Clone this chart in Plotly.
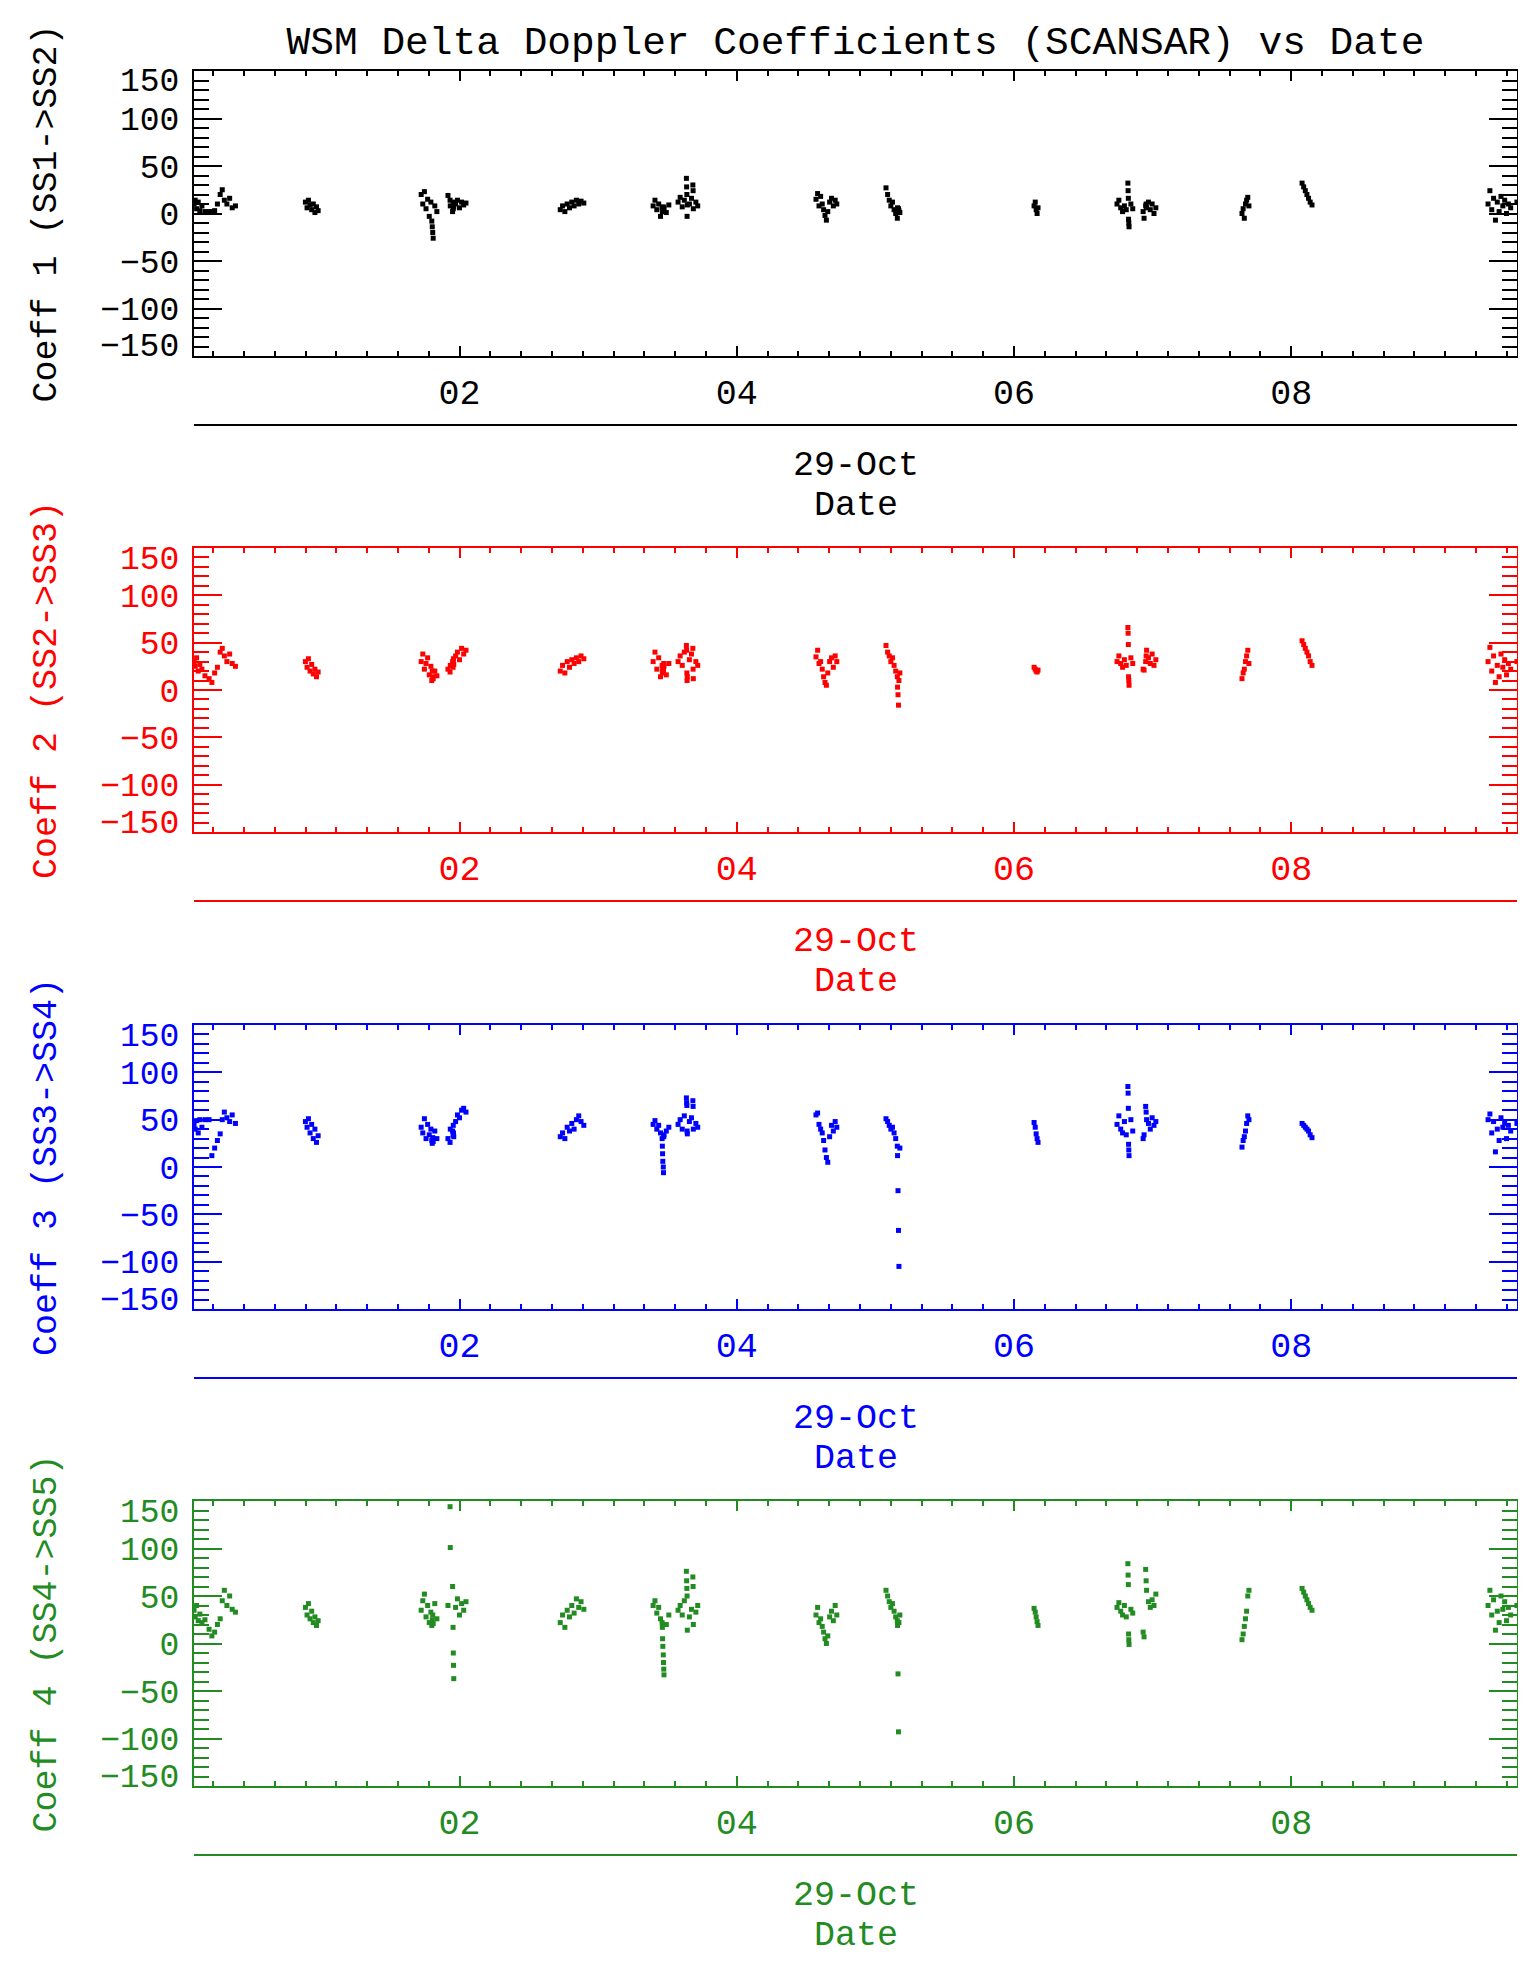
import pandas as pd
import plotly.graph_objects as go

day = "2009-10-29"

# sample times, shared by the four coefficients (one group per pass)
times = [
    "00:05:06", "00:05:36", "00:06:12", "00:06:54", "00:07:36", "00:08:30", "00:09:48", "00:11:36", "00:12:48",
    "00:14:00", "00:15:12", "00:16:24", "00:17:18", "00:18:12", "00:19:18", "00:20:30", "00:21:36", "00:23:00",
    "00:53:18", "00:54:00", "00:54:36", "00:55:18", "00:56:00", "00:56:42", "00:57:24", "00:58:06", "00:58:48",
    "01:43:24", "01:44:06", "01:44:48", "01:45:30", "01:46:12", "01:46:54", "01:47:36", "01:48:00", "01:48:12",
    "01:48:24", "01:48:36", "01:49:18", "01:50:12",
    "01:55:00", "01:55:54", "01:56:00", "01:57:00", "01:57:12", "01:57:18", "01:57:24", "01:57:30", "01:58:18",
    "01:59:06", "02:00:00", "02:00:54", "02:01:48", "02:02:48",
    "02:43:36", "02:44:36", "02:45:36", "02:46:36", "02:47:36", "02:48:36", "02:49:36", "02:50:36", "02:51:36",
    "02:52:36", "02:53:48",
    "03:23:48", "03:24:36", "03:25:24", "03:26:12", "03:27:00", "03:27:42", "03:27:48", "03:27:54", "03:28:00",
    "03:28:12", "03:28:18", "03:28:24", "03:28:30", "03:29:30", "03:30:36",
    "03:34:36", "03:35:30", "03:36:24", "03:37:18", "03:38:12", "03:38:18", "03:38:24", "03:38:30", "03:38:36",
    "03:39:30", "03:40:24", "03:41:00", "03:41:06", "03:41:12", "03:42:18", "03:43:06",
    "04:34:18", "04:35:00", "04:35:36", "04:36:18", "04:37:00", "04:37:36", "04:38:12", "04:38:48", "04:39:24",
    "04:40:12", "04:41:00", "04:41:48", "04:42:36", "04:43:18",
    "05:04:36", "05:05:18", "05:06:00", "05:06:42", "05:07:24", "05:08:06", "05:08:48", "05:09:30", "05:09:36",
    "05:09:48", "05:10:00", "05:10:12", "05:10:36",
    "06:08:42", "06:09:12", "06:09:36", "06:10:00", "06:10:24",
    "06:44:36", "06:45:24", "06:46:12", "06:47:00", "06:47:48", "06:48:36", "06:49:18", "06:49:24", "06:49:30",
    "06:49:36", "06:49:42", "06:49:48", "06:50:36", "06:51:24",
    "06:55:54", "06:56:18", "06:57:00", "06:57:12", "06:57:24", "06:58:12", "06:59:00", "06:59:48", "07:00:36",
    "07:01:24",
    "07:38:42", "07:39:12", "07:39:42", "07:40:12", "07:40:42", "07:41:12", "07:41:42",
    "08:04:42", "08:05:24", "08:06:06", "08:06:48", "08:07:30", "08:08:12", "08:09:00",
    "09:25:12", "09:26:00", "09:26:48", "09:27:36", "09:28:24", "09:29:12", "09:30:00", "09:30:48", "09:31:36",
    "09:32:24", "09:33:12", "09:34:00", "09:35:00", "09:37:42",
]

coeff1 = [
    10, 14, 5, 12, 3, 8, 2, 2, 2, 3, 10, 20, 25, 14, 10, 16, 6, 8,
    12, 6, 14, 9, 4, 10, 1, 7, 3,
    20, 10, 23, 5, 15, -3, 12, -8, -14, -20, -26, 8, 2,
    19, 14, 8, 2, 10, 5, 12, 7, 10, 14, 6, 12, 9, 11,
    4, 8, 2, 10, 6, 12, 8, 14, 10, 13, 11,
    8, 14, 4, 10, -3, 6, 2, 5, 3, 7, 4, 6, 5, 1, 9,
    12, 17, 7, 14, 37, 28, 20, -3, 9, 10, 16, 30, 24, 5, 12, 8,
    15, 21, 8, 18, 10, 4, -2, -7, 2, 12, 16, 8, 14, 10,
    27, 20, 14, 8, 12, 4, 0, -5, 6, 2, 5, 3, 1,
    8, 12, 4, 0, 6,
    10, 14, 6, 2, 8, 4, 32, 24, 16, -6, -10, -14, 10, 5,
    2, -5, 8, 10, 6, 12, 4, 10, 0, 6,
    0, 5, -5, 10, 14, 17, 8,
    32, 28, 24, 20, 16, 12, 9,
    10, 24, 4, 16, -7, 12, 2, 18, 8, 14, 0, 10, 6, 12,
]

coeff2 = [
    30, 25, 34, 20, 27, 22, 15, 12, 8, 18, 24, 40, 44, 36, 30, 38, 28, 25,
    30, 24, 33, 20, 27, 17, 22, 14, 19,
    30, 38, 22, 28, 34, 16, 25, 10, 20, 14, 12, 20, 15,
    22, 19, 26, 30, 24, 28, 33, 27, 36, 40, 32, 44, 38, 42,
    20, 26, 18, 30, 24, 32, 28, 34, 30, 36, 33,
    30, 40, 22, 34, 14, 26, 20, 18, 24, 22, 20, 28, 25, 16, 28,
    30, 36, 26, 40, 47, 42, 18, 10, 14, 32, 38, 44, 22, 12, 30, 26,
    35, 42, 28, 30, 22, 14, 8, 5, 18, 30, 34, 24, 36, 30,
    47, 40, 36, 30, 34, 26, 20, 14, 3, -5, -16, 10, 18,
    24, 22, 20, 19, 21,
    30, 36, 28, 24, 32, 26, 66, 60, 48, 14, 10, 5, 34, 28,
    22, 21, 30, 36, 42, 34, 28, 38, 26, 32,
    12, 18, 22, 30, 36, 42, 28,
    52, 48, 44, 40, 36, 30, 26,
    30, 45, 20, 36, 8, 26, 14, 38, 24, 32, 16, 28, 22, 30,
]

coeff3 = [
    45, 40, 49, 36, 50, 42, 50, 50, 12, 20, 28, 35, 50, 58, 52, 48, 55, 46,
    48, 42, 51, 36, 45, 30, 40, 26, 33,
    42, 36, 51, 30, 45, 34, 40, 28, 25, 31, 27, 38, 30,
    30, 26, 40, 38, 34, 44, 36, 32, 48, 55, 52, 60, 62, 58,
    32, 36, 30, 42, 38, 46, 40, 50, 54, 48, 44,
    45, 49, 40, 44, 36, 30, 22, 14, 6, 0, -6, 32, 34, 38, 42,
    45, 50, 40, 54, 73, 68, 65, 38, 35, 48, 52, 70, 64, 40, 46, 42,
    55, 57, 45, 40, 36, 28, 18, 10, 5, 32, 44, 38, 48, 42,
    51, 48, 44, 40, 42, 36, 30, 22, 12, -25, -67, -105, 20,
    47, 42, 35, 30, 26,
    45, 54, 40, 36, 48, 34, 85, 78, 62, 24, 18, 12, 50, 38,
    30, 34, 64, 58, 50, 46, 40, 52, 44, 48,
    21, 28, 32, 38, 46, 54, 50,
    46, 44, 42, 40, 38, 34, 31,
    50, 56, 36, 48, 16, 40, 28, 52, 42, 46, 30, 44, 38, 46,
]

coeff4 = [
    35, 28, 40, 24, 31, 22, 25, 15, 8, 12, 20, 26, 45, 56, 40, 50, 36, 33,
    38, 30, 42, 26, 34, 22, 28, 19, 24,
    35, 45, 52, 28, 40, 22, 33, 19, 25, 30, 21, 42, 26,
    40, 144, 101, 60, 17, -10, -23, -37, 38, 47, 30, 42, 35, 44,
    22, 30, 17, 35, 28, 40, 32, 47, 38, 44, 36,
    40, 45, 32, 38, 26, 22, 17, 5, -3, -12, -20, -27, -33, 20, 30,
    35, 40, 30, 45, 76, 66, 58, 50, 14, 28, 36, 70, 60, 20, 33, 40,
    30, 38, 22, 26, 18, 12, 5, 0, 8, 28, 34, 24, 40, 30,
    56, 50, 44, 38, 42, 34, 28, 24, 19, -32, -93, 22, 30,
    37, 33, 28, 23, 19,
    38, 43, 34, 30, 40, 28, 84, 72, 62, 10, 4, -1, 36, 32,
    12, 7, 78, 66, 56, 44, 38, 46, 40, 52,
    4, 10, 18, 26, 34, 50, 56,
    58, 54, 50, 46, 42, 38, 35,
    40, 56, 30, 46, 14, 34, 22, 50, 36, 44, 24, 38, 30, 40,
]

coeffs = [coeff1, coeff2, coeff3, coeff4]
colors = ["black", "red", "blue", "#228B22"]
ytitles = ["Coeff 1 (SS1->SS2)", "Coeff 2 (SS2->SS3)", "Coeff 3 (SS3->SS4)", "Coeff 4 (SS4->SS5)"]
yticks = [-150, -100, -50, 0, 50, 100, 150]
yticktext = ["", "−100", "−50", "0", "50", "100", ""]

# the page body has an 8px margin, so the figure is a bit smaller and
# every pixel position below is measured from the figure's own corner
OFF = 8
W, H = 1526 - 2 * OFF, 1966 - 2 * OFF
FONT = "Liberation Mono"
# pixel rows of each panel frame (top, bottom), page coordinates
panels = [(71, 356), (548, 832), (1025, 1309), (1501, 1786)]


def py(p):
    # page pixel row -> paper fraction
    return 1 - (p - OFF) / H


df = pd.DataFrame({"time": pd.to_datetime([day + " " + t for t in times])})
for i, c in enumerate(coeffs):
    df[f"c{i+1}"] = c

x_range = [day + " 00:05:04", day + " 09:37:44"]

fig = go.Figure()
annotations = []
shapes = []

for i in range(4):
    n = "" if i == 0 else str(i + 1)
    col = colors[i]
    top, bot = panels[i]
    fig.add_trace(go.Scatter(
        x=df["time"], y=df[f"c{i+1}"], mode="markers",
        marker=dict(symbol="square", size=5, color=col, line=dict(width=0)),
        xaxis="x" + n, yaxis="y" + n, showlegend=False))

    fig.update_layout(**{
        "xaxis" + n: dict(
            domain=[0, 1], anchor="y" + n, type="date", range=x_range,
            tick0=day + " 00:00", dtick=2 * 3600 * 1000, tickformat="%H",
            ticks="inside", ticklen=10, tickwidth=2, tickcolor=col,
            minor=dict(dtick=800000, tick0=day + " 00:00", ticks="inside",
                       ticklen=5, tickwidth=2, tickcolor=col),
            showline=True, linecolor=col, linewidth=2, mirror="allticks",
            showgrid=False, zeroline=False, automargin=False,
            tickfont=dict(family=FONT, size=35, color=col),
            ticklabelstandoff=4,
        ),
        "yaxis" + n: dict(
            domain=[py(bot), py(top)], anchor="x" + n, range=[-150, 150],
            tickvals=yticks, ticktext=yticktext,
            ticks="inside", ticklen=28, tickwidth=2, tickcolor=col,
            minor=dict(dtick=10, tick0=0, ticks="inside", ticklen=15,
                       tickwidth=2, tickcolor=col),
            showline=True, linecolor=col, linewidth=2, mirror="allticks",
            showgrid=False, zeroline=False, automargin=False,
            tickfont=dict(family=FONT, size=33, color=col),
            ticklabelstandoff=6,
            title=dict(text=ytitles[i], font=dict(family=FONT, size=35, color=col), standoff=33),
        ),
    })

    # end labels of the y axis sit just inside the frame, as in the original
    for val, shift in ((150, -12), (-150, 8)):
        annotations.append(dict(
            text="−150" if val < 0 else "150",
            xref=f"x{n} domain", x=0, xanchor="right", xshift=-13,
            yref="y" + n, y=val, yanchor="middle", yshift=shift, showarrow=False,
            font=dict(family=FONT, size=33, color=col)))

    # second level of the date axis: a rule, the day label, then the axis name
    shapes.append(dict(type="line", xref="paper", yref="paper", x0=0, x1=1,
                       y0=py(bot + 69), y1=py(bot + 69),
                       line=dict(color=col, width=2)))
    annotations.append(dict(text="29-Oct", xref="paper", yref="paper", x=0.5,
                            y=py(bot + 110), showarrow=False, yanchor="middle",
                            font=dict(family=FONT, size=35, color=col)))
    annotations.append(dict(text="Date", xref="paper", yref="paper", x=0.5,
                            y=py(bot + 150), showarrow=False, yanchor="middle",
                            font=dict(family=FONT, size=35, color=col)))

fig.update_layout(
    width=W, height=H,
    margin=dict(l=194 - OFF, r=W - (1517 - OFF), t=0, b=0),
    plot_bgcolor="white", paper_bgcolor="white",
    title=dict(text="WSM Delta Doppler Coefficients (SCANSAR) vs Date",
               x=0.5, xref="paper", y=py(40), yref="container", yanchor="middle",
               font=dict(family=FONT, size=39.5, color="black")),
    annotations=annotations, shapes=shapes,
)

fig.write_html("out.html")
